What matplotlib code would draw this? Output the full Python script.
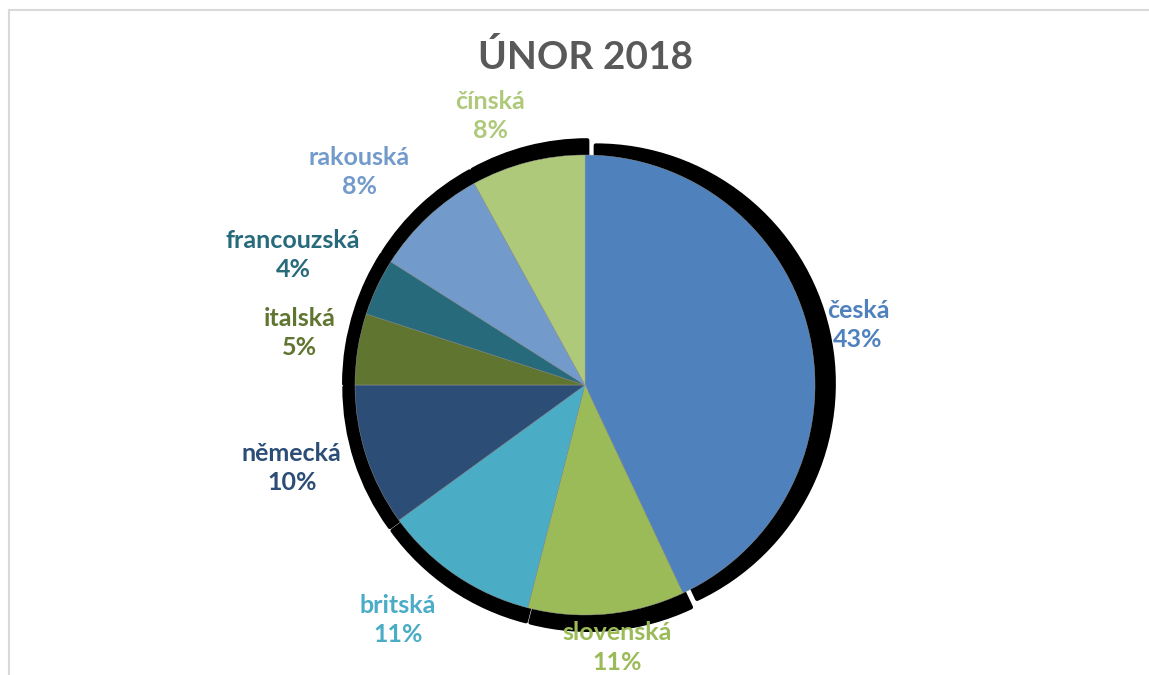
import matplotlib.pyplot as plt
from matplotlib.patches import Wedge
from matplotlib.lines import Line2D
import numpy as np

# Národnost návštěvníků - únor 2018 (podíly v %)
narodnosti = ['česká', 'slovenská', 'britská', 'německá', 'italská',
              'francouzská', 'rakouská', 'čínská']
podily = [43, 11, 11, 10, 5, 4, 8, 8]
barvy = ['#4F81BD', '#9BBB59', '#4BACC6', '#2C4D75', '#5F7530',
         '#276A7C', '#729ACA', '#AFC97A']
# umístění popisků: vzdálenost od středu (násobek poloměru) a pootočení ve stupních
vzdalenosti = [1.215, 1.15, 1.305, 1.325, 1.26, 1.39, 1.35, 1.24]
pootoceni = [-0.2, 1.5, -4.3, -2.2, -1.3, 1.2, 3.4, 5.0]

plt.rcParams['font.family'] = ['Lato', 'DejaVu Sans']

W, H = 1149, 675
fig = plt.figure(figsize=(W / 100, H / 100), dpi=100)
ax = fig.add_axes([0, 0, 1, 1])

stred = (585, H - 385)
r = 230

wedges, _ = ax.pie(podily, colors=barvy, startangle=90, counterclock=False,
                   center=stred, radius=r,
                   wedgeprops=dict(linewidth=0.3, edgecolor='#9a9a9a'))

# černý stín za každou výsečí
for w in wedges:
    uhel = np.deg2rad((w.theta1 + w.theta2) / 2)
    posun = 0.03 * r
    cx = stred[0] + posun * np.cos(uhel) + 4
    cy = stred[1] + posun * np.sin(uhel)
    stin = Wedge((cx, cy), r * 1.035, w.theta1, w.theta2, facecolor='black',
                 edgecolor='black', linewidth=3, joinstyle='round', zorder=0.5)
    ax.add_patch(stin)

# popisky: název a procento v barvě výseče
soucet = sum(podily)
for w, nazev, hodnota, barva, d, dt in zip(wedges, narodnosti, podily, barvy,
                                          vzdalenosti, pootoceni):
    uhel = np.deg2rad((w.theta1 + w.theta2) / 2 + dt)
    x = stred[0] + d * r * np.cos(uhel)
    y = stred[1] + d * r * np.sin(uhel)
    ax.text(x, y, f'{nazev}\n{round(hodnota / soucet * 100)}%', color=barva,
            fontsize=18, fontweight='bold', ha='center', va='center',
            linespacing=1.33)

ax.text(585, H - 57, 'ÚNOR 2018', color='#595959', fontsize=28,
        fontweight='bold', ha='center', va='center')

ax.set_xlim(0, W)
ax.set_ylim(0, H)
ax.set_aspect('equal')
ax.axis('off')

# šedý rámeček grafu
fig.add_artist(Line2D([9 / W, 1], [1 - 9.5 / H, 1 - 9.5 / H], color='#d9d9d9', linewidth=1.5))
fig.add_artist(Line2D([9 / W, 9 / W], [0, 1 - 9.5 / H], color='#d9d9d9', linewidth=1.5))

fig.savefig('out.png', dpi=100, facecolor='white')
